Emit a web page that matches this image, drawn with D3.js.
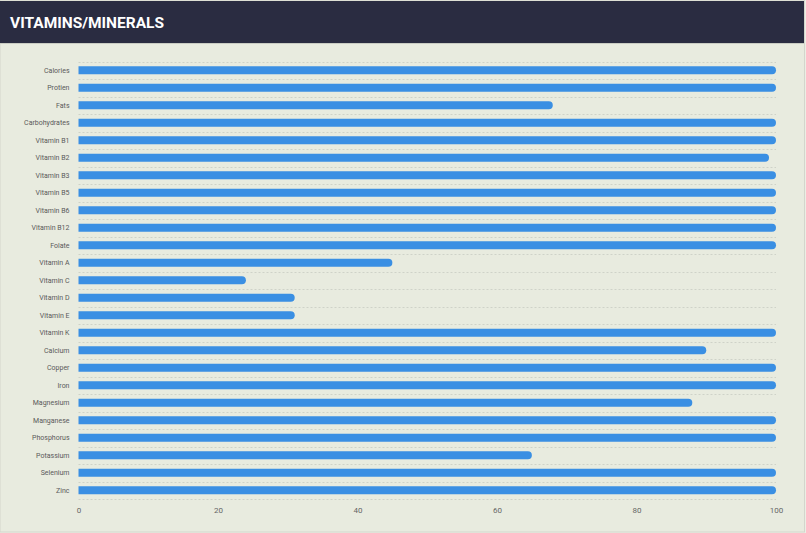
<!DOCTYPE html>
<html>
<head>
<meta charset="utf-8">
<script src="https://cdn.jsdelivr.net/npm/d3@7/dist/d3.min.js"></script>
<style>
  html, body { margin: 0; padding: 0; background: #eceee4; }
  svg { display: block; }
</style>
</head>
<body>
<svg id="chart" width="806" height="533"></svg>
<script>
const title = "VITAMINS/MINERALS";
const categories = ["Calories","Protien","Fats","Carbohydrates","Vitamin B1","Vitamin B2","Vitamin B3","Vitamin B5","Vitamin B6","Vitamin B12","Folate","Vitamin A","Vitamin C","Vitamin D","Vitamin E","Vitamin K","Calcium","Copper","Iron","Magnesium","Manganese","Phosphorus","Potassium","Selenium","Zinc"];
const values = [100,100,68,100,100,99,100,100,100,100,100,45,24,31,31,100,90,100,100,88,100,100,65,100,100];
const xTicks = [0,20,40,60,80,100];

const svg = d3.select("#chart");

// card
svg.append("rect").attr("x", 0).attr("y", 0).attr("width", 804.5).attr("height", 532)
  .attr("fill", "#e8ebdf").attr("stroke", "#d3d6cc").attr("stroke-width", 1);
// header
svg.append("rect").attr("x", 0).attr("y", 1).attr("width", 804).attr("height", 42).attr("fill", "#2a2c41");
svg.append("line").attr("x1", 0).attr("x2", 804).attr("y1", 43.5).attr("y2", 43.5).attr("stroke", "#c9ccc3");
svg.append("text").attr("x", 10).attr("y", 28).text(title)
  .attr("fill", "#ffffff").attr("font-family", "Roboto").attr("font-weight", "bold").attr("font-size", 15.5);

const x = d3.scaleLinear().domain([0, 100]).range([78.5, 776]);
const y = d3.scaleBand().domain(categories).range([61.5, 499]).paddingInner(0.54).paddingOuter(0.27);
const step = y.step();

// dotted gridlines at band boundaries
const lines = categories.map((c, i) => 61.5 + i * step).concat([499]);
svg.append("g").selectAll("line").data(lines).join("line")
  .attr("x1", x(0)).attr("x2", x(100))
  .attr("y1", d => Math.round(d) + 0.5).attr("y2", d => Math.round(d) + 0.5)
  .attr("stroke", "#cfd2c8").attr("stroke-width", 1).attr("stroke-dasharray", "2,2");

// bars with rounded right end
const bh = y.bandwidth();
const r = bh / 2;
svg.append("g").selectAll("path").data(categories).join("path")
  .attr("d", (c, i) => {
    const x0 = x(0), x1 = x(values[i]), y0 = y(c);
    return `M${x0},${y0} H${x1 - r} A${r},${r} 0 0 1 ${x1 - r},${y0 + bh} H${x0} Z`;
  })
  .attr("fill", "#3a8fe3");

// y labels
svg.append("g").selectAll("text").data(categories).join("text")
  .attr("x", 69.5).attr("y", c => y(c) + bh / 2).attr("dy", "0.35em")
  .attr("text-anchor", "end").attr("font-family", "Roboto").attr("font-size", 7)
  .attr("fill", "#5a5a5a").text(c => c);

// x axis
const xAxis = d3.axisBottom(x).tickValues(xTicks).tickSize(0).tickPadding(0);
const gx = svg.append("g").attr("transform", "translate(0,507)").call(xAxis);
gx.select(".domain").remove();
gx.selectAll("text").attr("font-family", "Roboto").attr("font-size", 8).attr("fill", "#666");
</script>
</body>
</html>
